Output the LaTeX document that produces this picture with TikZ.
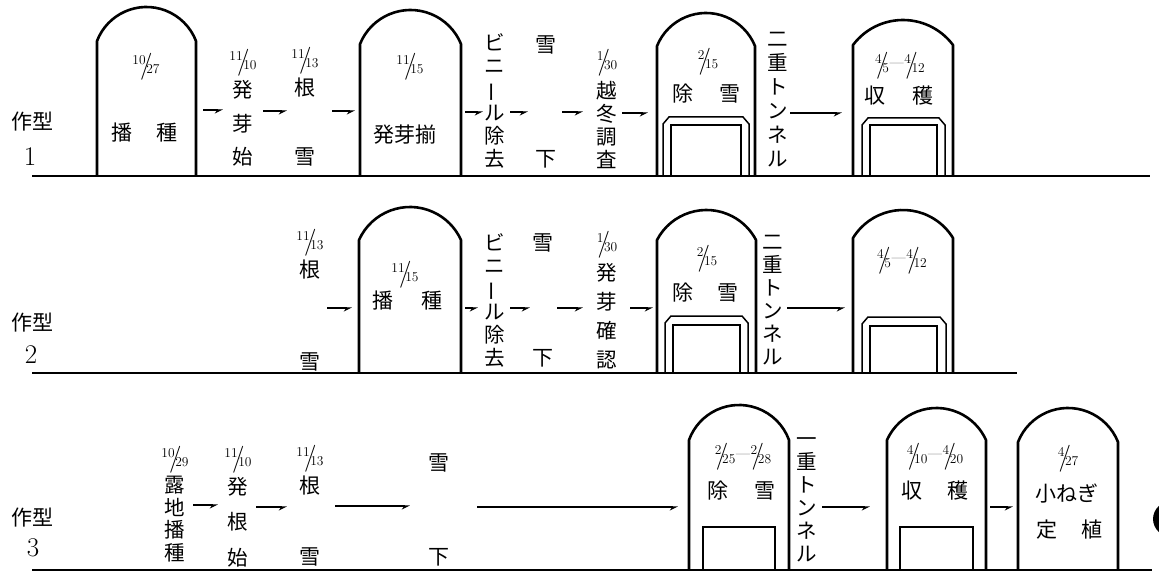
\documentclass[tikz,border=0pt]{standalone}
\usepackage{fontspec}
\newfontfamily\cjk{Noto Sans CJK JP}
\usetikzlibrary{arrows.meta}
\newcommand{\fr}[2]{{\fontsize{13.5}{13.5}\selectfont\raisebox{0.5em}{#1}\kern-0.42em\raisebox{-0.22em}{\fontsize{27}{27}\selectfont/}\kern-0.45em\raisebox{-0.2em}{#2}}}
\newcommand{\dsh}{{\fontsize{15}{15}\selectfont\kern0.05em\raisebox{0.12em}{---}\kern0.05em}}
\newcommand{\vbar}{\rotatebox[origin=c]{90}{ー}}
% tunnel: L, R, side top, peak, base
\newcommand{\tun}[5]{%
  \pgfmathsetmacro\tunw{(#2-#1)/2}%
  \pgfmathsetmacro\tunh{#3-#4}%
  \pgfmathsetmacro\tunr{(\tunh*\tunh+\tunw*\tunw)/(2*\tunh)}%
  \pgfmathsetmacro\tuna{asin(\tunw/\tunr)}%
  \draw[tunline] (#1,-#5) -- (#1,-#3) arc[start angle={90+\tuna}, end angle={90-\tuna}, radius=\tunr] -- (#2,-#5);}
% double door: oL, oR, iL, iR, otop, itop, base
\newcommand{\ddoor}[7]{%
  \draw[doorline] (#1,-#7) -- (#1,{-(#5+7)}) -- ({#1+6},-#5) -- ({#2-6},-#5) -- (#2,{-(#5+7)}) -- (#2,-#7);
  \draw[doorline] (#3,-#7) -- (#3,-#6) -- (#4,-#6) -- (#4,-#7);}
\begin{document}
\begin{tikzpicture}[x=1pt,y=1pt,
  tunline/.style={line width=2.6pt, line join=round},
  doorline/.style={line width=1.5pt},
  ground/.style={line width=2.8pt},
  arr/.style={line width=1.3pt, -{Stealth[right, length=7pt, width=7pt]}},
  jp/.style={font=\cjk\fontsize{21}{21}\selectfont, inner sep=0pt},
  vcol/.style={font=\cjk\fontsize{20.5}{#1}\selectfont, align=center, inner sep=0pt},
  fnode/.style={inner sep=0pt},
  num/.style={font=\fontsize{27}{27}\selectfont, inner sep=0pt}]
\useasboundingbox (0,0) rectangle (1159,-577);
\clip (0,0) rectangle (1159,-577);
\fill[white] (0,0) rectangle (1159,-577);

% ground lines
\draw[ground] (32,-176) -- (1150,-176);
\draw[ground] (32,-373) -- (1017,-373);
\draw[ground] (32,-570) -- (1152,-570);

% tunnels row 1
\tun{97}{196}{41}{7}{176}
\tun{360}{461}{44}{10}{176}
\tun{657}{755}{46}{13}{176}
\tun{853}{953}{45}{20}{176}
\ddoor{663}{749}{671}{741}{117}{125}{176}
\ddoor{862}{945}{870}{937}{118}{125}{176}
% tunnels row 2
\tun{359}{461}{240}{207}{373}
\tun{657}{756}{240}{210}{373}
\tun{853}{953}{238}{210}{373}
\ddoor{665}{748}{673}{740}{316}{325}{373}
\ddoor{862}{946}{870}{937}{317}{326}{373}
% tunnels row 3
\tun{689}{789}{440}{405}{570}
\tun{887}{986}{440}{408}{570}
\tun{1018}{1118}{442}{408}{570}
\draw[doorline] (703,-570) -- (703,-527) -- (775,-527) -- (775,-570);
\draw[doorline] (900,-570) -- (900,-527) -- (973,-527) -- (973,-570);

% row labels
\node[jp] (k1) at (32,-122) {作型};
\node[num] (n1) at (30,-157) {1};
\node[jp] (k2) at (32,-323) {作型};
\node[num] (n2) at (31,-355) {2};
\node[jp] (k3) at (32,-518) {作型};
\node[num] (n3) at (33,-548) {3};

% ---------- row 1 ----------
\node[fnode] (f11) at (146,-67) {\fr{10}{27}};
\node[jp] (t11) at (122,-133) {播};
\node[jp] (t12) at (167,-133) {種};
\node[fnode] (f12) at (243,-63) {\fr{11}{10}};
\node[vcol=33.5] (c11) at (243,-123.5) {発\\芽\\始};
\node[fnode] (f13) at (305,-61) {\fr{11}{13}};
\node[jp] (t13) at (305,-88) {根};
\node[jp] (t14) at (305,-157) {雪};
\node[fnode] (f14) at (410,-67) {\fr{11}{15}};
\node[jp] (t15) at (405,-135) {発芽揃};
\node[vcol=23.2] (c12) at (495,-101) {ビ\\ニ\\\vbar\\ル\\除\\去};
\node[jp] (t16) at (546,-45) {雪};
\node[jp] (t17) at (546,-159) {下};
\node[fnode] (f15) at (607,-63) {\fr{1}{30}};
\node[vcol=23] (c13) at (607,-125) {越\\冬\\調\\査};
\node[fnode] (f16) at (708,-62) {\fr{2}{15}};
\node[jp] (t18) at (683,-94) {除};
\node[jp] (t19) at (730,-94) {雪};
\node[vcol=24] (c14) at (778,-100) {二\\重\\ト\\ン\\ネ\\ル};
\node[fnode] (f17) at (900,-66) {\fr{4}{5}\dsh\fr{4}{12}};
\node[jp] (t110) at (875,-96) {収};
\node[jp] (t111) at (923,-96) {穫};

% ---------- row 2 ----------
\node[fnode] (f21) at (310,-243) {\fr{11}{13}};
\node[jp] (t21) at (310,-270) {根};
\node[jp] (t22) at (310,-362) {雪};
\node[fnode] (f22) at (405,-275) {\fr{11}{15}};
\node[jp] (t23) at (383,-301) {播};
\node[jp] (t24) at (432,-301) {種};
\node[vcol=23] (c21) at (495,-300) {ビ\\ニ\\\vbar\\ル\\除\\去};
\node[jp] (t25) at (543,-243) {雪};
\node[jp] (t26) at (543,-358) {下};
\node[fnode] (f23) at (607,-245) {\fr{1}{30}};
\node[vcol=29] (c22) at (607,-316) {発\\芽\\確\\認};
\node[fnode] (f24) at (707,-259) {\fr{2}{15}};
\node[jp] (t27) at (683,-293) {除};
\node[jp] (t28) at (728,-293) {雪};
\node[vcol=23] (c23) at (773,-300) {二\\重\\ト\\ン\\ネ\\ル};
\node[fnode] (f25) at (902,-261) {\fr{4}{5}\dsh\fr{4}{12}};

% ---------- row 3 ----------
\node[fnode] (f31) at (175,-460) {\fr{10}{29}};
\node[vcol=22.7] (c31) at (175,-519) {露\\地\\播\\種};
\node[fnode] (f32) at (238,-460) {\fr{11}{10}};
\node[vcol=35.5] (c32) at (238,-522) {発\\根\\始};
\node[fnode] (f33) at (310,-459) {\fr{11}{13}};
\node[jp] (t31) at (310,-486) {根};
\node[jp] (t32) at (310,-557) {雪};
\node[jp] (t33) at (439,-463) {雪};
\node[jp] (t34) at (439,-557) {下};
\node[fnode] (f34) at (743,-457) {\fr{2}{25}\dsh\fr{2}{28}};
\node[jp] (t35) at (718,-491) {除};
\node[jp] (t36) at (765,-491) {雪};
\node[vcol=23] (c33) at (807,-500) {一\\重\\ト\\ン\\ネ\\ル};
\node[fnode] (f35) at (935,-457) {\fr{4}{10}\dsh\fr{4}{20}};
\node[jp] (t37) at (912,-491) {収};
\node[jp] (t38) at (958,-491) {穫};
\node[fnode] (f36) at (1068,-459) {\fr{4}{27}};
\node[jp] (t39) at (1067,-494) {小ねぎ};
\node[jp] (t310) at (1047,-530) {定};
\node[jp] (t311) at (1092,-530) {植};

% arrows
\foreach \i/\xa/\xb/\yy in {1/203/223/110, 2/263/287/111, 3/332/355/111, 4/465/483/112,
  5/510/528/112, 6/562/583/112, 7/622/648/113, 8/790/842/113,
  9/327/352/308, 10/465/478/308, 11/510/530/308, 12/557/583/308, 13/630/653/308, 14/787/845/308,
  15/193/218/505, 16/256/287/507, 17/335/410/506, 18/477/678/507, 19/822/870/507, 20/990/1013/507}{
  \coordinate (a\i s) at (\xa,-\yy);
  \coordinate (a\i e) at (\xb,-\yy);
  \draw[arr] (a\i s) -- (a\i e);
}

% blot at the right edge
\fill[black] (1172,-519) ellipse [x radius=19, y radius=18];
\end{tikzpicture}
\end{document}
